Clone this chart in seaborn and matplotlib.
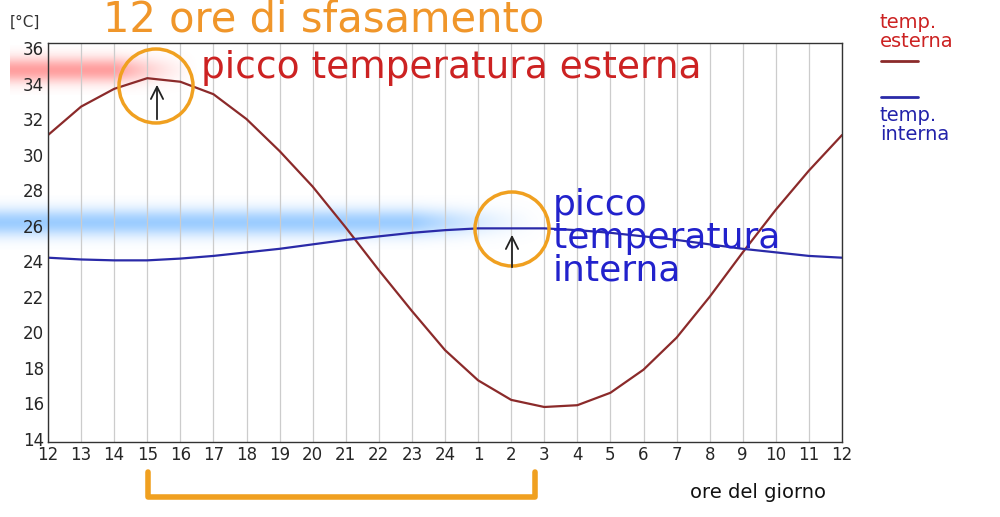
import numpy as np
import matplotlib
matplotlib.use("Agg")
import matplotlib.pyplot as plt
import seaborn as sns
from matplotlib.patches import Circle

hours = ["12", "13", "14", "15", "16", "17", "18", "19", "20", "21", "22", "23", "24",
         "1", "2", "3", "4", "5", "6", "7", "8", "9", "10", "11", "12"]
t_esterna = [31.1, 32.7, 33.7, 34.3, 34.1, 33.4, 32.0, 30.2, 28.2, 25.9, 23.5, 21.2, 19.0,
             17.3, 16.2, 15.8, 15.9, 16.6, 17.9, 19.7, 22.0, 24.5, 26.9, 29.1, 31.1]
t_interna = [24.2, 24.1, 24.05, 24.05, 24.15, 24.3, 24.5, 24.7, 24.95, 25.2, 25.4, 25.6, 25.75,
             25.85, 25.85, 25.85, 25.75, 25.6, 25.4, 25.2, 24.95, 24.7, 24.5, 24.3, 24.2]
yticks = list(range(14, 37, 2))

sns.set_style("white")
plt.rcParams['font.family'] = ['DejaVu Sans']
W, H = 1000, 517
fig = plt.figure(figsize=(10, 5.17), dpi=100)

# overlay axes in pixel coords for decorations
ov = fig.add_axes([0, 0, 1, 1], zorder=0)
ov.set_xlim(0, W); ov.set_ylim(H, 0); ov.axis("off")

def glow(x0, x1, y0, y1, rgb, amax, fade=0.3):
    nx, ny = 300, 80
    xs = np.linspace(0, 1, nx); ys = np.linspace(-1, 1, ny)
    ax_ = np.clip((1 - xs) / fade, 0, 1)[None, :] ** 1.5
    ay = np.exp(-(ys[:, None] ** 2) * 4)
    img = np.zeros((ny, nx, 4))
    img[..., :3] = rgb
    img[..., 3] = amax * ax_ * ay
    ov.imshow(img, extent=(x0, x1, y1, y0), aspect="auto", zorder=1, interpolation="bilinear")

ax = fig.add_axes([48 / W, 1 - 442 / H, (842 - 48) / W, (442 - 43) / H], zorder=2)
ax.patch.set_alpha(0)
x = np.arange(len(hours))
sns.lineplot(x=x, y=t_esterna, ax=ax, color="#8b2a2a", lw=1.6)
sns.lineplot(x=x, y=t_interna, ax=ax, color="#2a2aa8", lw=1.6)
ax.set_xlim(0, 24)
ax.set_ylim(13.83, 36.28)
ax.set_xticks(x, hours)
ax.set_yticks(yticks)
ax.tick_params(labelsize=12, direction="in", length=3, pad=3)
ax.grid(axis="x", color="#cccccc", lw=0.9)
for s in ax.spines.values():
    s.set_color("#333333"); s.set_linewidth(1)

glow(10, 200, 45, 95, (1.0, 0.5, 0.5), 0.75, fade=0.45)
glow(0, 550, 195, 250, (0.45, 0.72, 1.0), 0.7, fade=0.25)

top = fig.add_axes([0, 0, 1, 1], zorder=3)
top.set_xlim(0, W); top.set_ylim(H, 0); top.axis("off")
for cx, cy in [(156, 86), (512, 229)]:
    top.add_patch(Circle((cx, cy), 37, fill=False, ec="#f0a020", lw=2.5))
top.annotate("", xy=(157, 82), xytext=(157, 122), arrowprops=dict(arrowstyle="->", color="#222", lw=1.3, mutation_scale=22))
top.annotate("", xy=(512, 232), xytext=(512, 270), arrowprops=dict(arrowstyle="->", color="#222", lw=1.3, mutation_scale=22))
top.plot([148, 148, 535, 535], [472, 497, 497, 472], color="#f0a020", lw=4, solid_capstyle="round")

top.text(103, 20, "12 ore di sfasamento", color="#f0962a", fontsize=30, va="center")
top.text(10, 22, "[°C]", color="#333", fontsize=11, va="center")
top.text(201, 68, "picco temperatura esterna", color="#cc2222", fontsize=27, va="center")
top.text(553, 188, "picco\ntemperatura\ninterna", color="#2222cc", fontsize=26, va="top", linespacing=0.95)
top.text(690, 492, "ore del giorno", color="#111", fontsize=14, va="center")
top.text(880, 32, "temp.\nesterna", color="#cc2222", fontsize=14, va="center", linespacing=1.0)
top.plot([881, 918], [61, 61], color="#8b2a2a", lw=2)
top.plot([881, 918], [97, 97], color="#2a2aa8", lw=2)
top.text(880, 125, "temp.\ninterna", color="#2222aa", fontsize=14, va="center", linespacing=1.0)

fig.savefig("out.png", dpi=100)
